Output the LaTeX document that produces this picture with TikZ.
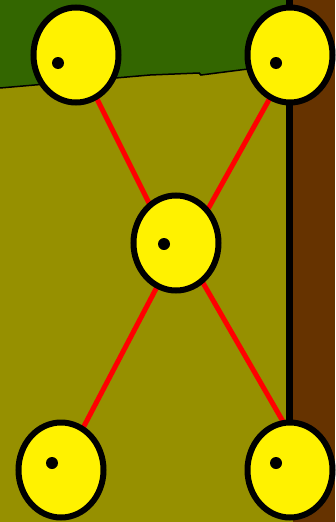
\documentclass[tikz,border=0pt]{standalone}
\usetikzlibrary{shapes.geometric}
\pgfdeclarelayer{ground}
\pgfdeclarelayer{wires}
\pgfsetlayers{ground,wires,main}
\definecolor{olive}{RGB}{150,144,0}
\definecolor{grass}{RGB}{51,102,0}
\definecolor{bark}{RGB}{102,51,0}

\begin{document}
\begin{tikzpicture}[x=1pt, y=-1pt]
\tikzset{
    PT/.style={ellipse, draw=black, fill=yellow, line width=6pt,
               minimum width=85pt, minimum height=95pt, inner sep=0pt},
    LN/.style={draw=red, line width=5pt},
    DOT/.style={fill=black},
}
\useasboundingbox (0,0) rectangle (335,522);

%── Ground ─────────────────────────────────────────────
\begin{pgfonlayer}{ground}
\fill[olive] (0,0) rectangle (335,522);
\fill[grass] (0,0) -- (290,0) -- (290,68) -- (248,69) -- (201,75)
             -- (199,73) -- (150,75) -- (0,88) -- cycle;
\draw[black, line width=1.5pt] (0,88) -- (150,75) -- (199,73)
             -- (201,75) -- (248,69) -- (290,68);
\fill[bark] (293,0) rectangle (335,522);
\draw[black, line width=7.5pt] (289.5,0) -- (289.5,440);
\end{pgfonlayer}

%── Points ─────────────────────────────────────────────
\node[PT] (tl) at ( 76, 55) {};
\node[PT] (tr) at (290, 55) {};
\node[PT] (c)  at (176,243) {};
\node[PT] (bl) at ( 61,470) {};
\node[PT] (br) at (290,470) {};

% small marks inside each point
\fill[DOT] ([shift={(-18, 8)}]tl.center) circle (6pt);
\fill[DOT] ([shift={(-14, 8)}]tr.center) circle (6pt);
\fill[DOT] ([shift={(-12, 1)}]c.center)  circle (6pt);
\fill[DOT] ([shift={( -9,-7)}]bl.center) circle (6pt);
\fill[DOT] ([shift={(-14,-7)}]br.center) circle (6pt);

%── Lines (under the points) ───────────────────────────
\begin{pgfonlayer}{wires}
\draw[LN] ([xshift=-1pt]tl.center) -- ([xshift=-7pt]c.center);
\draw[LN] ([xshift=4pt]tr.center)  -- ([xshift=13pt]c.center);
\draw[LN] (bl.center)              -- ([xshift=4pt]c.center);
\draw[LN] ([xshift=21pt]br.center) -- ([xshift=4pt]c.center);
\end{pgfonlayer}

\end{tikzpicture}
\end{document}
